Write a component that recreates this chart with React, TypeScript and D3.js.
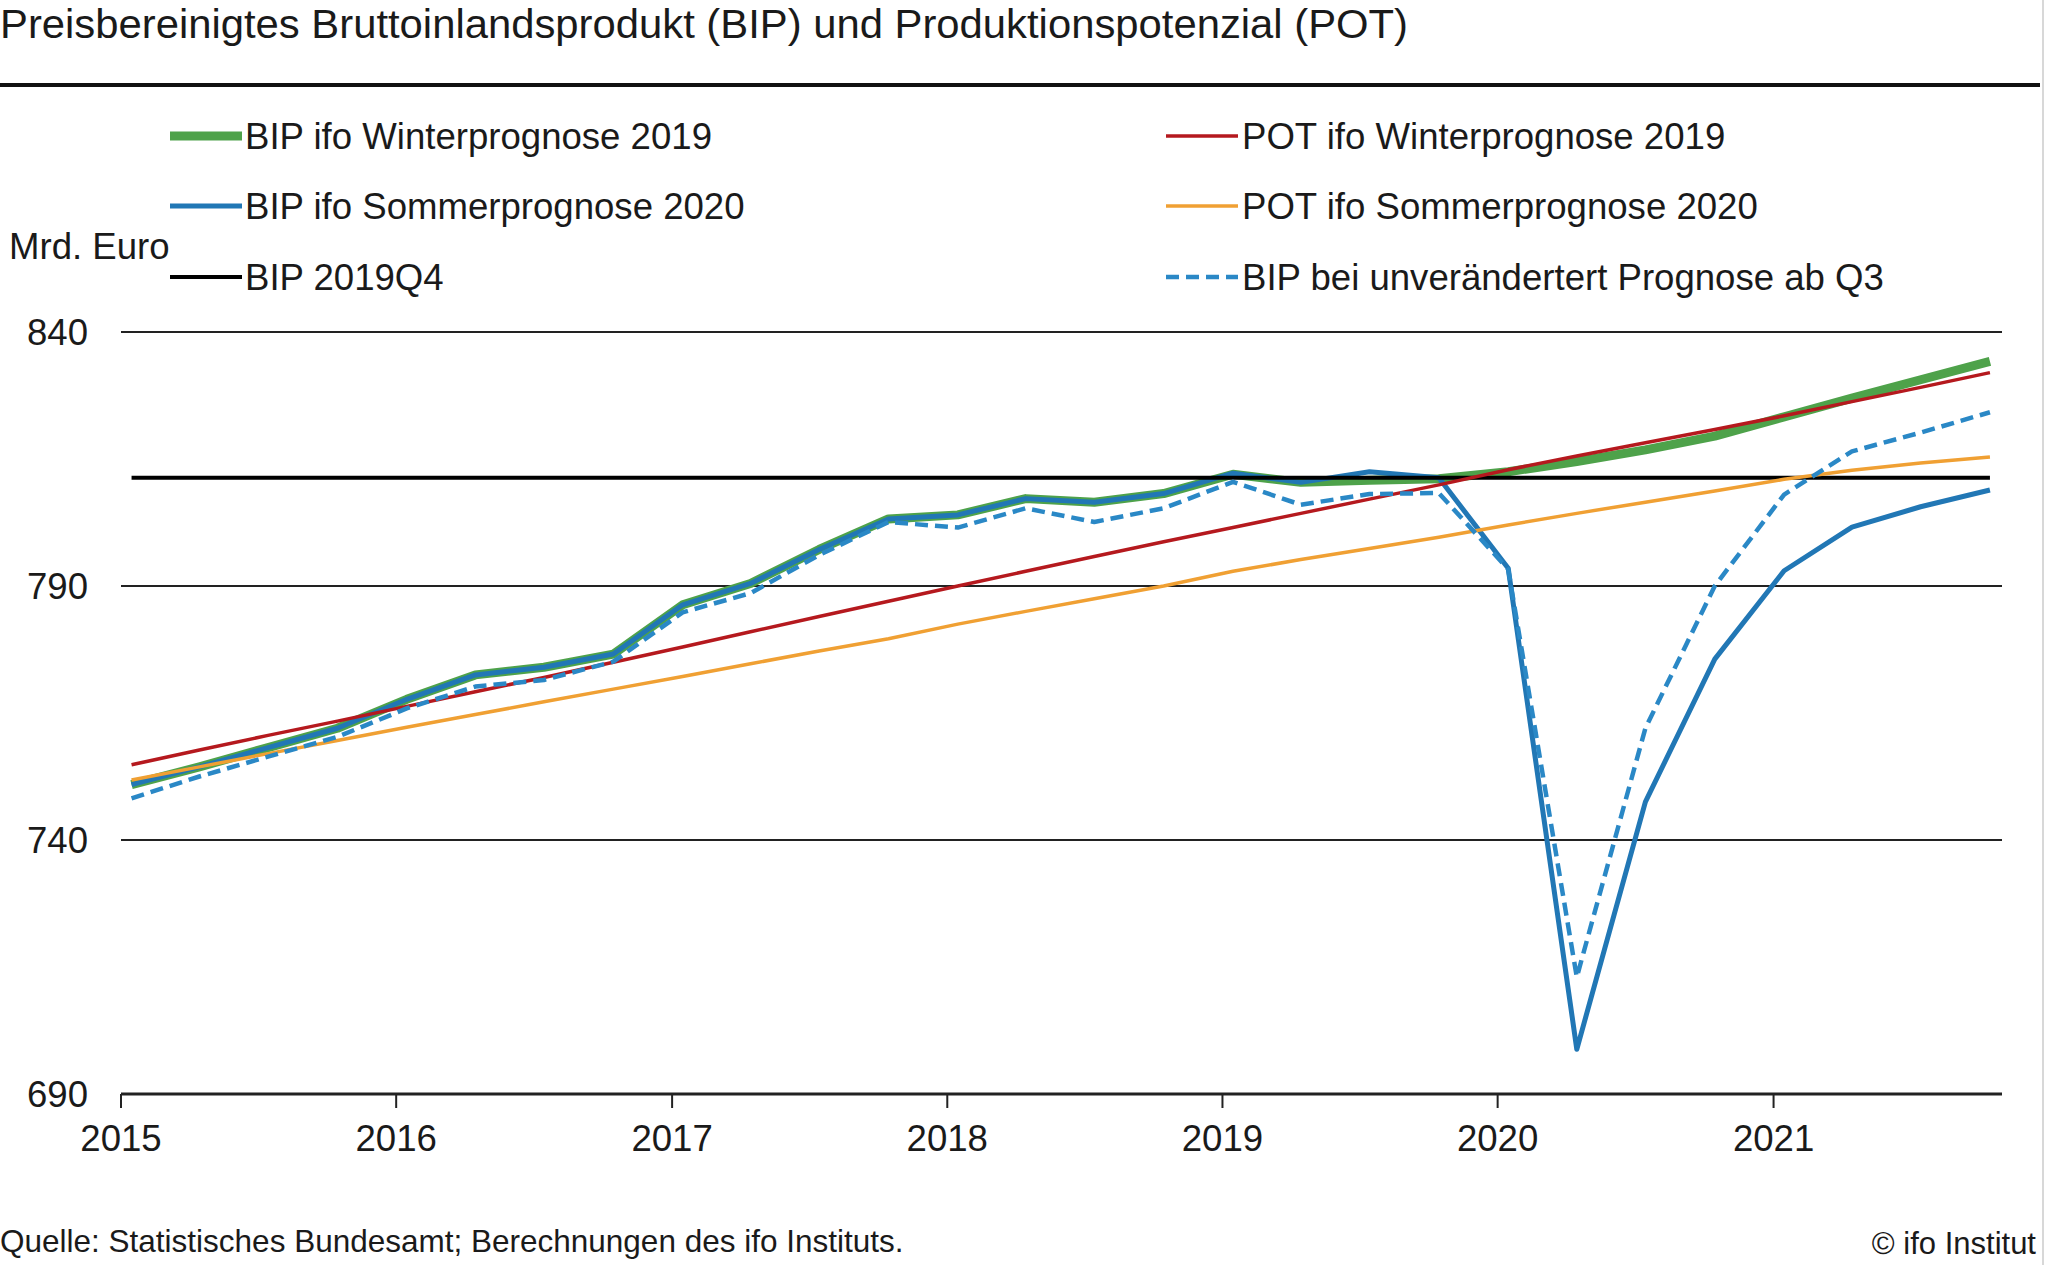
import React from "react";
import * as d3 from "d3";

const quarters = [
  "2015Q1", "2015Q2", "2015Q3", "2015Q4",
  "2016Q1", "2016Q2", "2016Q3", "2016Q4",
  "2017Q1", "2017Q2", "2017Q3", "2017Q4",
  "2018Q1", "2018Q2", "2018Q3", "2018Q4",
  "2019Q1", "2019Q2", "2019Q3", "2019Q4",
  "2020Q1", "2020Q2", "2020Q3", "2020Q4",
  "2021Q1", "2021Q2", "2021Q3", "2021Q4",
];

const bipWinter2019 = [
  750.9, 754.4, 758.2, 762.0, 767.7, 772.5, 774.0, 776.6,
  786.3, 790.5, 797.2, 803.2, 804.0, 807.2, 806.5, 808.2,
  812.0, 810.4, 810.8, 811.1, 812.5, 814.5, 816.8, 819.5,
  823.3, 827.0, 830.6, 834.2,
];

const bipSommer2020 = [
  750.9, 754.4, 758.2, 762.0, 767.7, 772.5, 774.0, 776.6,
  786.3, 790.5, 797.2, 803.2, 804.0, 807.2, 806.5, 808.2,
  812.2, 810.4, 812.5, 811.3, 793.5, 698.8, 747.5, 775.6,
  793.0, 801.6, 805.6, 808.9,
];

const potWinter2019 = [
  754.8, 757.7, 760.6, 763.4, 766.3, 769.2, 772.0, 775.0,
  778.0, 781.0, 784.0, 787.0, 790.0, 792.9, 795.8, 798.7,
  801.5, 804.3, 807.1, 809.9, 812.9, 815.6, 818.2, 820.8,
  823.5, 826.3, 829.1, 832.0,
];

const potSommer2020 = [
  751.8, 754.4, 757.0, 759.6, 762.2, 764.7, 767.2, 769.7,
  772.2, 774.7, 777.2, 779.6, 782.5, 785.0, 787.5, 790.0,
  792.9, 795.2, 797.4, 799.6, 802.0, 804.3, 806.5, 808.7,
  811.0, 812.8, 814.2, 815.4,
];

const bipUnchanged = [
  748.2, 752.5, 756.4, 760.3, 765.9, 770.2, 771.5, 775.1,
  784.8, 788.6, 796.1, 802.6, 801.5, 805.3, 802.6, 805.3,
  810.5, 806.0, 808.1, 808.3, 793.3, 713.0, 762.0, 790.0,
  808.0, 816.5, 820.2, 824.2,
];

const BIP_2019Q4 = 811.3;

const yTicks = [690, 740, 790, 840];
const yearTicks = ["2015", "2016", "2017", "2018", "2019", "2020", "2021"];

const TITLE = "Preisbereinigtes Bruttoinlandsprodukt (BIP) und Produktionspotenzial (POT)";
const UNIT = "Mrd. Euro";
const SOURCE = "Quelle: Statistisches Bundesamt; Berechnungen des ifo Instituts.";
const COPYRIGHT = "© ifo Institut";

type Series = { key: string; label: string; color: string; width: number; dash?: string; values?: number[]; level?: number };

const series: Series[] = [
  { key: "bw", label: "BIP ifo Winterprognose 2019", color: "#4ea24a", width: 9, values: bipWinter2019 },
  { key: "bs", label: "BIP ifo Sommerprognose 2020", color: "#2177b5", width: 5, values: bipSommer2020 },
  { key: "ref", label: "BIP 2019Q4", color: "#000000", width: 4, level: BIP_2019Q4 },
  { key: "pw", label: "POT ifo Winterprognose 2019", color: "#b5191e", width: 3.5, values: potWinter2019 },
  { key: "ps", label: "POT ifo Sommerprognose 2020", color: "#f0a033", width: 3.5, values: potSommer2020 },
  { key: "bu", label: "BIP bei unverändertert Prognose ab Q3", color: "#2a88c6", width: 4.5, dash: "13,7", values: bipUnchanged },
];

const FONT = "'Liberation Sans', Arial, Helvetica, sans-serif";

function qDate(q: string): Date {
  const year = +q.slice(0, 4);
  const qi = +q.slice(5, 6);
  return new Date(year, (qi - 1) * 3, 15);
}

export default function App() {
  const W = 2048;
  const H = 1265;
  const x = d3.scaleTime().domain([new Date(2015, 0, 1), new Date(2021, 9, 31)]).range([121, 2002]);
  const y = d3.scaleLinear().domain([690, 840]).range([1094, 332]);
  const dates = quarters.map(qDate);

  const line = d3
    .line<number>()
    .x((_, i) => x(dates[i]))
    .y((d) => y(d));

  const legendLeft = [series[0], series[1], series[2]];
  const legendRight = [series[3], series[4], series[5]];
  const rowY = [136, 206, 277];

  return (
    <svg
      width={W}
      height={H}
      style={{ position: "absolute", left: 0, top: 0, background: "#fff" }}
      fontFamily={FONT}
    >
      <rect x={0} y={0} width={W} height={H} fill="#fff" />
      <text x={0} y={38} fontSize={40} fill="#1a1a1a" textLength={1408} lengthAdjust="spacingAndGlyphs">
        {TITLE}
      </text>
      <line x1={0} x2={2040} y1={85} y2={85} stroke="#111" strokeWidth={4} />
      <line x1={2043} x2={2043} y1={0} y2={H} stroke="#d8d8d8" strokeWidth={2} />

      {/* legend */}
      {legendLeft.map((s, i) => (
        <g key={s.key}>
          <line x1={170} x2={242} y1={rowY[i]} y2={rowY[i]} stroke={s.color} strokeWidth={s.width} strokeDasharray={s.dash} />
          <text x={245} y={rowY[i]} dy="0.35em" fontSize={36.6} fill="#1a1a1a">
            {s.label}
          </text>
        </g>
      ))}
      {legendRight.map((s, i) => (
        <g key={s.key}>
          <line x1={1166} x2={1238} y1={rowY[i]} y2={rowY[i]} stroke={s.color} strokeWidth={s.width} strokeDasharray={s.dash} />
          <text x={1242} y={rowY[i]} dy="0.35em" fontSize={36.6} fill="#1a1a1a">
            {s.label}
          </text>
        </g>
      ))}

      <text x={9} y={246} dy="0.35em" fontSize={36.6} fill="#1a1a1a">
        {UNIT}
      </text>

      {/* grid */}
      {yTicks.map((t) => (
        <g key={t}>
          <line x1={121} x2={2002} y1={y(t)} y2={y(t)} stroke="#222" strokeWidth={t === 690 ? 3 : 2} />
          <text x={88} y={y(t)} dy="0.35em" fontSize={36.6} textAnchor="end" fill="#1a1a1a">
            {t}
          </text>
        </g>
      ))}
      {yearTicks.map((yr) => {
        const xx = x(new Date(+yr, 0, 1));
        return (
          <g key={yr}>
            <line x1={xx} x2={xx} y1={1094} y2={1108} stroke="#222" strokeWidth={2} />
            <text x={xx} y={1138} dy="0.35em" fontSize={36.6} textAnchor="middle" fill="#1a1a1a">
              {yr}
            </text>
          </g>
        );
      })}

      {/* series */}
      {series.map((s) =>
        s.values ? (
          <path
            key={s.key}
            d={line(s.values) || ""}
            fill="none"
            stroke={s.color}
            strokeWidth={s.width}
            strokeDasharray={s.dash}
            strokeLinejoin="round"
          />
        ) : (
          <line
            key={s.key}
            x1={x(dates[0])}
            x2={x(dates[dates.length - 1])}
            y1={y(s.level as number)}
            y2={y(s.level as number)}
            stroke={s.color}
            strokeWidth={s.width}
          />
        )
      )}

      <text x={0} y={1241} dy="0.35em" fontSize={31.5} fill="#1a1a1a">
        {SOURCE}
      </text>
      <text x={2036} y={1243} dy="0.35em" fontSize={31} textAnchor="end" fill="#1a1a1a">
        {COPYRIGHT}
      </text>
    </svg>
  );
}
